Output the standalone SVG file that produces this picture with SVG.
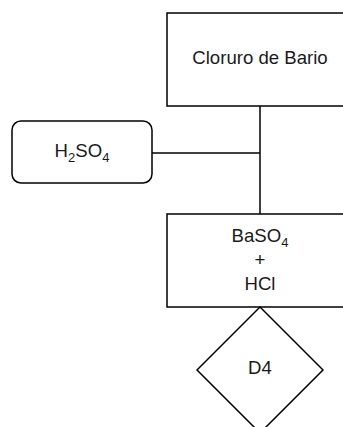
<svg xmlns="http://www.w3.org/2000/svg" width="343" height="427" viewBox="0 0 343 427">
  <style>
    .shape { fill: #ffffff; stroke: #000000; stroke-width: 1.5; }
    .edge { fill: none; stroke: #000000; stroke-width: 1.5; }
    .label { font-family: "Liberation Sans", Arial, Helvetica, sans-serif; font-size: 18.6px; fill: #1a1a1a; text-anchor: middle; }
    .sub { font-size: 13px; }
  </style>
  <rect width="343" height="427" fill="#ffffff"/>
  <g id="connectors">
    <path class="edge" d="M260 106 V214"/>
    <path class="edge" d="M152 153 H260"/>
  </g>
  <g id="cloruro-de-bario">
    <rect class="shape" x="167" y="13" width="186" height="93"/>
    <text class="label" x="260" y="64">Cloruro de Bario</text>
  </g>
  <g id="h2so4">
    <rect class="shape" x="12" y="121" width="140" height="62" rx="9" ry="9"/>
    <text class="label" x="82" y="157">H<tspan class="sub" dy="5">2</tspan><tspan dy="-5">SO</tspan><tspan class="sub" dy="5">4</tspan></text>
  </g>
  <g id="baso4-hcl">
    <rect class="shape" x="167" y="214" width="186" height="93"/>
    <text class="label" x="260" y="242">BaSO<tspan class="sub" dy="5">4</tspan></text>
    <text class="label" x="260" y="266">+</text>
    <text class="label" x="260" y="290">HCl</text>
  </g>
  <g id="d4">
    <polygon class="shape" points="260,307 323,370 260,433 197,370"/>
    <text class="label" x="260" y="374">D4</text>
  </g>
</svg>
